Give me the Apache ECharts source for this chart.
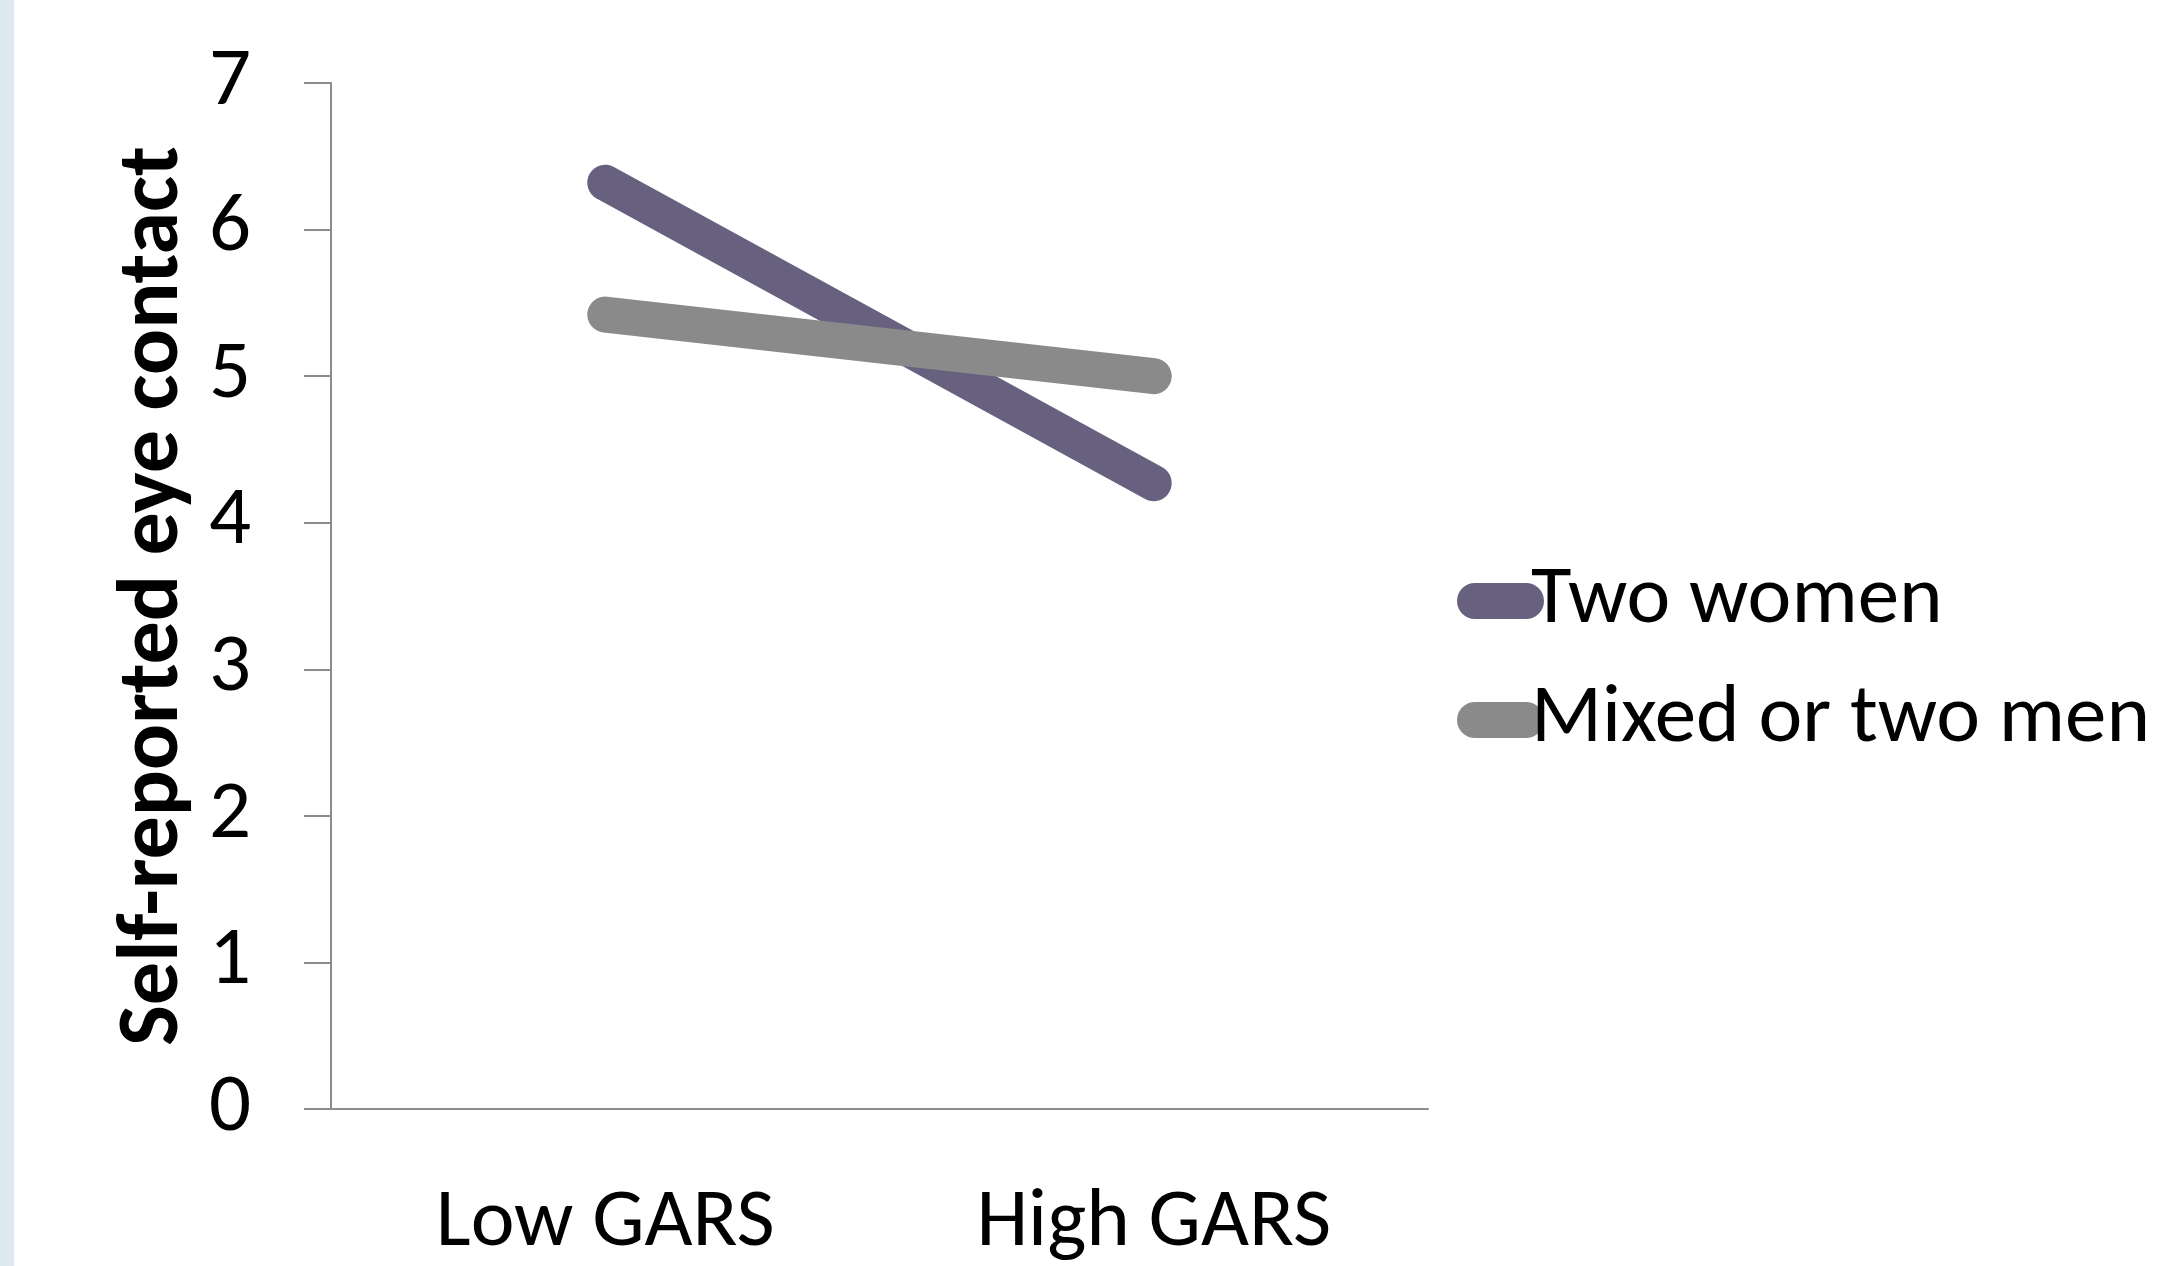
<!DOCTYPE html>
<html>
<head>
<meta charset="utf-8">
<script src="https://cdn.jsdelivr.net/npm/echarts@6/dist/echarts.min.js"></script>
<style>
html,body{margin:0;padding:0;background:#fff;}
#chart{width:2163px;height:1266px;}
</style>
</head>
<body>
<div id="chart"></div>
<script>
const categories = ['Low GARS', 'High GARS'];
const seriesNames = ['Two women', 'Mixed or two men'];
const twoWomen = [6.32, 4.27];
const mixedOrTwoMen = [5.42, 5.00];
const yTicks = [0, 1, 2, 3, 4, 5, 6, 7];

const FONT = 'Carlito, Lato, "Liberation Sans", sans-serif';
const FS = 83;
const chart = echarts.init(document.getElementById('chart'));
const capsule = 'path://M18,0 L69,0 A18,18 0 0 1 69,36 L18,36 A18,18 0 0 1 18,0 Z';

chart.setOption({
  animation: false,
  backgroundColor: '#ffffff',
  graphic: [{
    type: 'rect', left: 0, top: 0,
    shape: { width: 14, height: 1266 },
    style: { fill: '#dde8ef' }
  }],
  grid: { left: 331, right: 735, top: 83, bottom: 147 },
  legend: {
    orient: 'vertical',
    left: 1452, top: 546,
    itemWidth: 87, itemHeight: 36, itemGap: 19,
    icon: capsule,
    data: seriesNames,
    textStyle: { fontFamily: FONT, fontSize: FS, color: '#000', lineHeight: 100, padding: [0, 0, 0, -18] }
  },
  xAxis: {
    type: 'category',
    data: categories,
    boundaryGap: true,
    axisLine: { show: true, lineStyle: { color: '#8c8c8c', width: 2 } },
    axisTick: { show: false },
    axisLabel: { fontFamily: FONT, fontSize: FS, color: '#000', margin: 74 },
    splitLine: { show: false }
  },
  yAxis: {
    type: 'value',
    min: yTicks[0], max: yTicks[yTicks.length - 1], interval: 1,
    name: 'Self-reported eye contact',
    nameLocation: 'middle', nameRotate: 90, nameGap: 133,
    nameTextStyle: { fontFamily: FONT, fontSize: 86, fontWeight: 'bold', color: '#000' },
    axisLine: { show: true, lineStyle: { color: '#8c8c8c', width: 2 } },
    axisTick: { show: true, length: 27, lineStyle: { color: '#8c8c8c', width: 2 } },
    axisLabel: { fontFamily: FONT, fontSize: FS, color: '#000', margin: 80 },
    splitLine: { show: false }
  },
  series: [
    {
      name: seriesNames[0], type: 'line', data: twoWomen,
      symbol: 'none', color: '#67617f',
      lineStyle: { width: 36, cap: 'round', color: '#67617f' }
    },
    {
      name: seriesNames[1], type: 'line', data: mixedOrTwoMen,
      symbol: 'none', color: '#8a8a8a',
      lineStyle: { width: 36, cap: 'round', color: '#8a8a8a' }
    }
  ]
});
</script>
</body>
</html>
